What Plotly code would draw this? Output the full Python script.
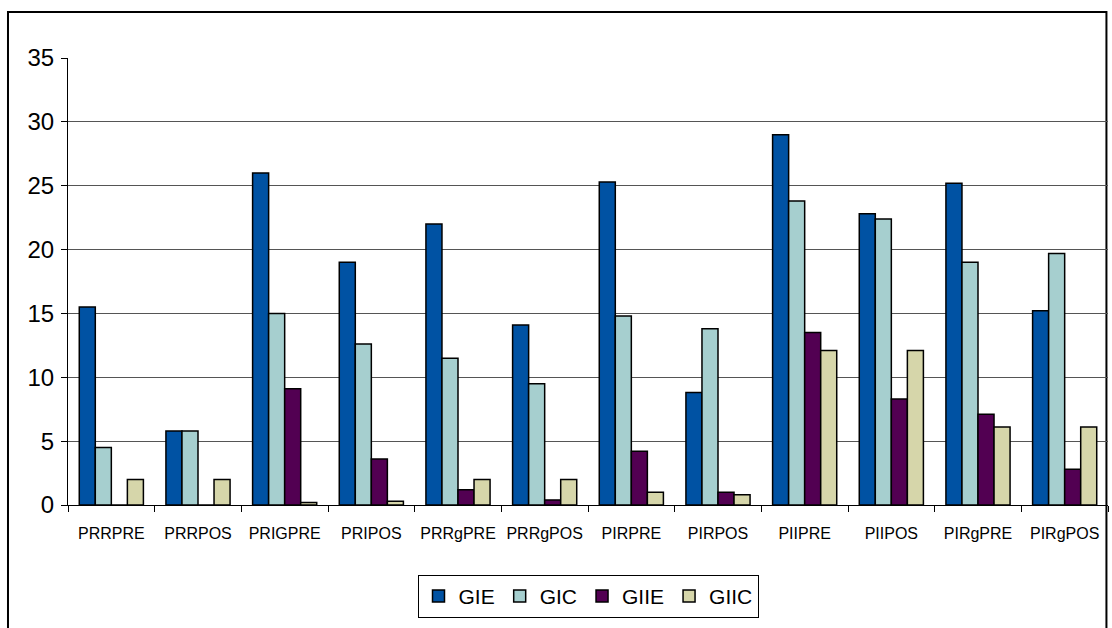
import plotly.graph_objects as go

# Categories and series values
categories = ["PRRPRE", "PRRPOS", "PRIGPRE", "PRIPOS", "PRRgPRE", "PRRgPOS",
              "PIRPRE", "PIRPOS", "PIIPRE", "PIIPOS", "PIRgPRE", "PIRgPOS"]
gie = [15.5, 5.8, 26.0, 19.0, 22.0, 14.1, 25.3, 8.8, 29.0, 22.8, 25.2, 15.2]
gic = [4.5, 5.8, 15.0, 12.6, 11.5, 9.5, 14.8, 13.8, 23.8, 22.4, 19.0, 19.7]
giie = [0, 0, 9.1, 3.6, 1.2, 0.4, 4.2, 1.0, 13.5, 8.3, 7.1, 2.8]
giic = [2.0, 2.0, 0.2, 0.3, 2.0, 2.0, 1.0, 0.8, 12.1, 12.1, 6.1, 6.1]

series = [
    ("GIE", gie, "#0052A3"),
    ("GIC", gic, "#A6CFCF"),
    ("GIIE", giie, "#520052"),
    ("GIIC", giic, "#D6D6AA"),
]

fig = go.Figure()
for name, vals, color in series:
    fig.add_trace(go.Bar(
        x=categories, y=vals, name=name,
        marker=dict(color=color, line=dict(color="black", width=1.5)),
    ))

font_family = "Liberation Sans, Arial, sans-serif"

fig.update_layout(
    width=1112, height=628,
    margin=dict(l=68, r=4, t=58, b=123),
    paper_bgcolor="white", plot_bgcolor="white",
    barmode="group", bargap=0.26, bargroupgap=0,
    font=dict(family=font_family, color="black"),
    showlegend=True,
    legend=dict(
        orientation="h", x=0.5, xanchor="center", y=-0.156, yanchor="top",
        bordercolor="black", borderwidth=1, bgcolor="white",
        font=dict(size=21, family=font_family), itemwidth=30,
    ),
    xaxis=dict(
        type="category", showgrid=False, showline=True, linecolor="black",
        linewidth=1, ticks="outside", tickson="boundaries", ticklen=6,
        tickcolor="black", tickfont=dict(size=16), tickangle=0,
        ticklabelstandoff=14, automargin=False,
    ),
    yaxis=dict(
        range=[0, 35], dtick=5, showgrid=True, gridcolor="#555555",
        gridwidth=1, showline=True, linecolor="black", linewidth=1,
        ticks="outside", ticklen=6, tickcolor="black",
        tickfont=dict(size=24), ticklabelstandoff=2, zeroline=False,
        automargin=False,
    ),
)

# Outer chart border
fig.add_shape(type="rect", xref="paper", yref="paper",
              x0=-0.0577, x1=0.9985, y0=-0.32, y1=1.1029,
              line=dict(color="black", width=2), fillcolor="rgba(0,0,0,0)",
              layer="below")

fig.write_html("out.html")
